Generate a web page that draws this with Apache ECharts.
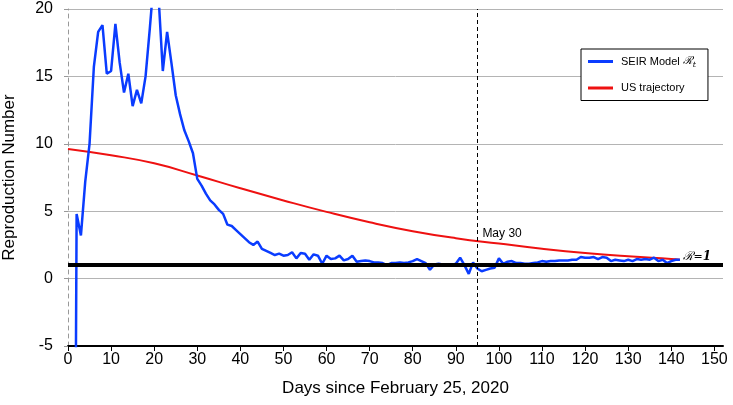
<!DOCTYPE html>
<html>
<head>
<meta charset="utf-8">
<style>
  html, body { margin: 0; padding: 0; background: #fff; }
  #chart { width: 733px; height: 405px; }
</style>
<script src="https://cdn.jsdelivr.net/npm/echarts@6/dist/echarts.min.js"></script>
</head>
<body>
<div id="chart"></div>
<script>
  // SEIR model Rt, one value per day starting at day 1
  var seirStartDay = 1;
  var seirValues = [
    -60, 4.8, 3.2, 7.2, 10.0, 15.7, 18.3, 18.8, 15.2, 15.4,
    18.9, 16.0, 13.8, 15.2, 12.8, 14.0, 13.0, 15.0, 18.6, 22.5,
    21.0, 15.4, 18.3, 16.0, 13.6, 12.2, 11.0, 10.2, 9.3, 7.4,
    6.9, 6.3, 5.8, 5.5, 5.1, 4.8, 4.0, 3.9, 3.6, 3.3,
    3.0, 2.7, 2.5, 2.75, 2.2, 2.05, 1.9, 1.75, 1.85, 1.7,
    1.75, 1.95, 1.5, 1.9, 1.85, 1.4, 1.8, 1.7, 1.1, 1.7,
    1.45, 1.5, 1.7, 1.35, 1.45, 1.7, 1.25, 1.3, 1.35, 1.3,
    1.2, 1.2, 1.15, 1.0, 1.15, 1.15, 1.2, 1.15, 1.2, 1.3,
    1.45, 1.3, 1.15, 0.65, 1.05, 1.1, 1.05, 1.0, 1.0, 1.1,
    1.55, 1.0, 0.35, 1.2, 0.75, 0.55, 0.65, 0.75, 0.8, 1.5,
    1.1, 1.25, 1.3, 1.15, 1.15, 1.1, 1.1, 1.15, 1.2, 1.3,
    1.25, 1.3, 1.3, 1.35, 1.35, 1.35, 1.4, 1.4, 1.6, 1.55,
    1.55, 1.6, 1.45, 1.6, 1.55, 1.3, 1.4, 1.35, 1.3, 1.4,
    1.3, 1.45, 1.4, 1.45, 1.4, 1.55, 1.3, 1.4, 1.15, 1.3,
    1.4, 1.4
  ];

  // US trajectory
  var usDays   = [0, 10, 20, 30, 40, 50, 60, 70, 80, 90, 100, 110, 120, 130, 140, 142];
  var usValues = [9.62, 9.15, 8.55, 7.65, 6.7, 5.8, 4.95, 4.18, 3.52, 3.0, 2.6, 2.22, 1.9, 1.65, 1.45, 1.4];

  var xTicks = { min: 0, max: 152, interval: 10 };
  var yTicks = { min: -5, max: 20, interval: 5 };

  var thresholdR = 1;
  var markerDay = 95;
  var markerLabel = 'May 30';
  var markerLabelY = 3.35;

  var seirData = seirValues.map(function (v, i) { return [seirStartDay + i, v]; });
  var usData = usDays.map(function (d, i) { return [d, usValues[i]]; });

  var chart = echarts.init(document.getElementById('chart'));
  var font = 'Liberation Sans, Arial, sans-serif';

  var option = {
    animation: false,
    textStyle: { fontFamily: font },
    grid: { left: 68, right: 10, top: 9, bottom: 59, containLabel: false, outerBoundsMode: 'none' },
    legend: {
      orient: 'vertical',
      left: 581,
      top: 49,
      width: 110,
      padding: [7, 12, 7, 7],
      itemGap: 14,
      itemWidth: 25,
      itemHeight: 3,
      borderColor: '#000',
      borderWidth: 1,
      backgroundColor: '#fff',
      icon: 'rect',
      data: ['SEIR Model', 'US trajectory'],
      formatter: function (name) {
        if (name === 'SEIR Model') return '{a|SEIR Model }{r|ℛ}{s|t}';
        return '{a|' + name + '}';
      },
      textStyle: {
        color: '#000',
        fontSize: 11,
        padding: [0, 0, 0, 3],
        rich: {
          a: { fontSize: 11, fontFamily: font, color: '#000' },
          r: { fontSize: 11, fontFamily: 'DejaVu Serif', fontStyle: 'italic', color: '#000' },
          s: { fontSize: 8, fontFamily: 'DejaVu Serif', fontStyle: 'italic', color: '#000', padding: [6, 0, 0, 0] }
        }
      }
    },
    xAxis: {
      type: 'value',
      min: xTicks.min,
      max: xTicks.max,
      interval: xTicks.interval,
      name: 'Days since February 25, 2020',
      nameLocation: 'middle',
      nameGap: 34,
      nameTextStyle: { fontSize: 17, color: '#000' },
      axisLine: { onZero: false, lineStyle: { color: '#000', width: 2 } },
      axisTick: { show: true, length: 5, lineStyle: { color: '#000', width: 1 } },
      axisLabel: { fontSize: 16, color: '#000', margin: 6 },
      splitLine: { show: false }
    },
    yAxis: {
      type: 'value',
      min: yTicks.min,
      max: yTicks.max,
      interval: yTicks.interval,
      name: 'Reproduction Number',
      nameLocation: 'middle',
      nameGap: 50,
      nameTextStyle: { fontSize: 17, color: '#000' },
      axisLine: { show: true, onZero: false, lineStyle: { color: '#999', type: [4, 4], width: 1 } },
      axisTick: { show: true, length: 4, lineStyle: { color: '#999' } },
      axisLabel: { fontSize: 16, color: '#000', margin: 15 },
      splitLine: { show: true, lineStyle: { color: '#b4b4b4', width: 1 } }
    },
    series: [
      {
        name: 'SEIR Model',
        type: 'line',
        data: seirData,
        showSymbol: false,
        clip: true,
        color: '#0a3cff',
        lineStyle: { width: 2.5, color: '#0a3cff' },
        z: 3,
        markLine: {
          silent: true,
          symbol: ['none', 'none'],
          animation: false,
          data: [
            {
              yAxis: thresholdR,
              lineStyle: { color: '#000', width: 4, type: 'solid' },
              label: {
                show: true,
                position: 'insideEndTop',
                distance: [12, 2],
                formatter: '{r|ℛ}{e|=}{o|1}',
                rich: {
                  r: { fontFamily: 'DejaVu Serif', fontStyle: 'italic', fontSize: 12, color: '#000' },
                  e: { fontFamily: 'DejaVu Serif', fontSize: 11, color: '#000' },
                  o: { fontFamily: 'DejaVu Serif', fontStyle: 'italic', fontWeight: 'bold', fontSize: 12, color: '#000' }
                }
              }
            },
            {
              xAxis: markerDay,
              lineStyle: { color: '#000', width: 1, type: [4, 3] },
              label: { show: false }
            }
          ]
        }
      },
      {
        name: 'US trajectory',
        type: 'line',
        data: usData,
        smooth: true,
        showSymbol: false,
        color: '#ee1111',
        lineStyle: { width: 2, color: '#ee1111' },
        z: 2,
        markPoint: {
          symbol: 'circle',
          symbolSize: 0,
          data: [{ coord: [markerDay, markerLabelY] }],
          label: {
            show: true,
            position: 'right',
            distance: 5,
            formatter: markerLabel,
            fontSize: 12,
            color: '#000',
            fontFamily: font
          }
        }
      }
    ]
  };

  chart.setOption(option);
</script>
</body>
</html>
